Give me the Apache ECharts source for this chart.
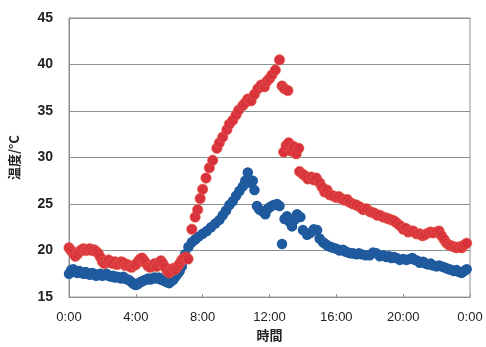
<!DOCTYPE html>
<html>
<head>
<meta charset="utf-8">
<script src="https://cdn.jsdelivr.net/npm/echarts@6/dist/echarts.min.js"></script>
<style>
  html, body { margin: 0; padding: 0; background: #fff; }
  #chart { width: 486px; height: 347px; }
</style>
</head>
<body>
<div id="chart"></div>
<script>
// time of day in hours, temperatures in °C
const redHours = [
  0.000, 0.125, 0.250, 0.375, 0.500, 0.625, 0.750, 0.875, 1.000, 1.125, 1.250, 1.375,
  1.500, 1.625, 1.750, 1.875, 2.000, 2.125, 2.250, 2.375, 2.500, 2.625, 2.750, 2.875,
  3.000, 3.125, 3.250, 3.375, 3.500, 3.625, 3.750, 3.875, 4.000, 4.125, 4.250, 4.375,
  4.500, 4.625, 4.750, 4.875, 5.000, 5.125, 5.250, 5.375, 5.500, 5.625, 5.750, 5.875,
  6.000, 6.125, 6.250, 6.375, 6.500, 6.625, 6.750, 6.875, 7.000, 7.125,
  7.35, 7.55, 7.70, 7.85, 8.00, 8.20, 8.40, 8.60, 8.85, 9.00, 9.20, 9.45,
  9.60, 9.80, 10.00, 10.15, 10.40, 10.55, 10.70, 10.90, 11.10, 11.30, 11.50, 11.70,
  11.85, 12.00, 12.15, 12.35, 12.60, 12.75, 12.90, 13.10,
  12.85, 13.00, 13.15, 13.30, 13.45, 13.60, 13.75,
  13.80, 14.00, 14.15, 14.30, 14.50, 14.65, 14.80, 15.00, 15.15, 15.30, 15.45, 15.60,
  15.80, 16.00, 16.15, 16.30, 16.50, 16.65, 16.80, 17.00, 17.20, 17.40, 17.60, 17.80,
  18.00, 18.15, 18.30, 18.45, 18.60, 18.80, 19.00, 19.15, 19.30, 19.45, 19.60, 19.80,
  20.00, 20.15, 20.30, 20.45, 20.60, 20.80, 21.00, 21.15, 21.30, 21.50, 21.65, 21.80,
  22.00, 22.15, 22.30, 22.45, 22.60, 22.75, 22.90, 23.05, 23.20, 23.35, 23.50, 23.65,
  23.80
];
const redTemps = [
  20.3, 20.0, 19.7, 19.4, 19.6, 19.9, 20.1, 20.2, 20.0, 20.1, 20.2, 20.0,
  20.1, 19.9, 19.7, 19.3, 18.8, 18.6, 18.8, 19.0, 18.7, 18.6, 18.8, 18.5,
  18.6, 18.8, 18.7, 18.4, 18.5, 18.3, 18.2, 18.4, 18.5, 18.8, 19.1, 19.2,
  18.9, 18.6, 18.3, 18.2, 18.4, 18.6, 18.3, 18.7, 18.9, 18.6, 18.2, 17.8,
  17.6, 17.8, 18.1, 18.0, 18.3, 18.6, 19.0, 19.2, 19.3, 19.1,
  22.3, 23.6, 24.4, 25.6, 26.6, 27.8, 28.9, 29.7, 31.0, 31.6, 32.2, 33.0,
  33.6, 34.0, 34.6, 35.1, 35.6, 35.9, 36.3, 36.1, 36.8, 37.4, 37.8, 37.6,
  38.2, 38.5, 38.9, 39.4, 40.5, 37.7, 37.4, 37.2,
  30.6, 31.3, 31.6, 30.7, 31.2, 30.4, 31.0,
  28.5, 28.2, 28.0, 27.7, 27.9, 27.6, 27.8, 27.3, 26.8, 26.3, 26.5, 26.0,
  25.9, 25.7, 25.8, 25.6, 25.4, 25.5, 25.2, 25.0, 24.9, 24.7, 24.4, 24.5,
  24.2, 24.1, 24.0, 23.8, 23.8, 23.6, 23.5, 23.4, 23.3, 23.2, 23.0, 22.7,
  22.3, 22.4, 22.0, 22.1, 22.1, 21.8, 21.8, 21.6, 21.7, 21.9, 22.0, 21.9,
  22.0, 22.1, 21.6, 21.2, 20.8, 20.6, 20.5, 20.4, 20.3, 20.4, 20.3, 20.6,
  20.8
];
const blueHours = [
  0.000, 0.125, 0.250, 0.375, 0.500, 0.625, 0.750, 0.875, 1.000, 1.125, 1.250, 1.375,
  1.500, 1.625, 1.750, 1.875, 2.000, 2.125, 2.250, 2.375, 2.500, 2.625, 2.750, 2.875,
  3.000, 3.125, 3.250, 3.375, 3.500, 3.625, 3.750, 3.875, 4.000, 4.125, 4.250, 4.375,
  4.500, 4.625, 4.750, 4.875, 5.000, 5.125, 5.250, 5.375, 5.500, 5.625, 5.750, 5.875,
  6.000, 6.125, 6.250, 6.375, 6.500, 6.625, 6.750, 6.875, 6.950,
  7.15, 7.35, 7.55, 7.75, 8.00, 8.25, 8.50, 8.75, 9.00, 9.20, 9.40, 9.60,
  9.80, 10.00, 10.20, 10.40, 10.55, 10.70, 10.85, 11.00, 11.10, 11.25, 11.40, 11.60,
  11.75, 11.90, 12.05, 12.25, 12.45, 12.60, 12.75, 12.90, 13.05, 13.20, 13.35, 13.50,
  13.65, 13.85, 14.00, 14.25, 14.45, 14.65, 14.85, 15.00, 15.20, 15.35, 15.50, 15.65,
  15.80, 16.00, 16.20, 16.40, 16.55, 16.70, 16.85, 17.00, 17.20, 17.35, 17.50, 17.75,
  18.00, 18.20, 18.40, 18.60, 18.80, 19.00, 19.15, 19.30, 19.45, 19.60, 19.80, 20.00,
  20.20, 20.40, 20.55, 20.70, 20.85, 21.00, 21.20, 21.35, 21.50, 21.65, 21.80, 22.00,
  22.15, 22.30, 22.45, 22.60, 22.75, 22.90, 23.05, 23.20, 23.35, 23.50, 23.65, 23.80
];
const blueTemps = [
  17.5, 17.9, 18.0, 17.7, 17.6, 17.8, 17.6, 17.5, 17.7, 17.5, 17.4, 17.6,
  17.5, 17.3, 17.4, 17.5, 17.3, 17.4, 17.5, 17.3, 17.2, 17.3, 17.1, 17.2,
  17.1, 17.0, 17.2, 17.0, 16.9, 16.8, 16.6, 16.4, 16.3, 16.4, 16.6, 16.7,
  16.8, 16.9, 17.0, 16.9, 17.0, 17.1, 17.0, 17.1, 16.9, 16.8, 16.7, 16.6,
  16.5, 16.7, 16.9, 17.2, 17.5, 17.8, 18.3, 19.0, 19.6,
  20.4, 20.9, 21.2, 21.5, 21.8, 22.1, 22.5, 22.9, 23.3, 23.8, 24.3, 24.9,
  25.3, 25.9, 26.4, 26.9, 27.5, 28.4, 27.3, 27.5, 26.5, 24.8, 24.4, 24.2,
  23.9, 24.5, 24.7, 24.9, 25.0, 24.8, 20.7, 23.4, 23.7, 23.1, 22.6, 23.3,
  23.9, 23.6, 22.2, 21.7, 21.9, 22.3, 22.2, 21.3, 20.9, 20.7, 20.5, 20.4,
  20.3, 20.2, 20.0, 20.1, 19.9, 19.8, 19.7, 19.7, 19.6, 19.7, 19.6, 19.5,
  19.5, 19.8, 19.7, 19.4, 19.5, 19.3, 19.4, 19.2, 19.3, 19.2, 19.0, 19.1,
  19.0, 19.1, 19.2, 19.0, 18.9, 18.7, 18.8, 18.6, 18.5, 18.6, 18.4, 18.3,
  18.4, 18.3, 18.2, 18.1, 18.0, 17.9, 17.8, 17.9, 17.7, 17.6, 17.8, 18.0
];
const xTickLabels = ["0:00", "4:00", "8:00", "12:00", "16:00", "20:00", "0:00"];

const zip = (xs, ys) => xs.map((x, i) => [x, ys[i]]);

const chart = echarts.init(document.getElementById("chart"));
chart.setOption({
  backgroundColor: "#fff",
  animation: false,
  textStyle: { fontFamily: "Liberation Sans, Arial, sans-serif" },
  grid: { left: 69, right: 16, top: 18, bottom: 46, show: true, borderColor: "#8a8f8f", borderWidth: 1 },
  xAxis: {
    type: "value",
    min: 0,
    max: 24,
    interval: 4,
    name: "時間",
    nameLocation: "middle",
    nameGap: 31,
    nameTextStyle: { fontFamily: "Noto Sans CJK JP", fontWeight: "bold", fontSize: 13, color: "#222" },
    axisLine: { lineStyle: { color: "#8a8f8f" } },
    axisTick: { show: true, inside: true, length: 3, lineStyle: { color: "#8a8f8f" } },
    axisLabel: {
      color: "#222",
      fontSize: 13,
      margin: 14,
      formatter: (v) => xTickLabels[Math.round(v / 4)],
    },
    splitLine: { show: false },
  },
  yAxis: {
    type: "value",
    min: 15,
    max: 45,
    interval: 5,
    name: "温度/°C",
    nameLocation: "middle",
    nameGap: 48,
    nameRotate: 90,
    nameTextStyle: { fontFamily: "Noto Sans CJK JP", fontWeight: "bold", fontSize: 13, color: "#222" },
    axisLine: { show: true, lineStyle: { color: "#8a8f8f" } },
    axisTick: { show: false },
    axisLabel: { color: "#222", fontSize: 14, fontWeight: "bold", margin: 16 },
    splitLine: { lineStyle: { color: "#8a9393", width: 1 } },
  },
  series: [
    {
      type: "scatter",
      symbolSize: 10.5,
      itemStyle: { color: "#1f5a9e", opacity: 1 },
      data: zip(blueHours, blueTemps),
    },
    {
      type: "scatter",
      symbolSize: 10.5,
      itemStyle: { color: "#d8323d", borderColor: "#e8644a", borderWidth: 0.5, opacity: 1 },
      data: zip(redHours, redTemps),
    },
  ],
});
</script>
</body>
</html>
